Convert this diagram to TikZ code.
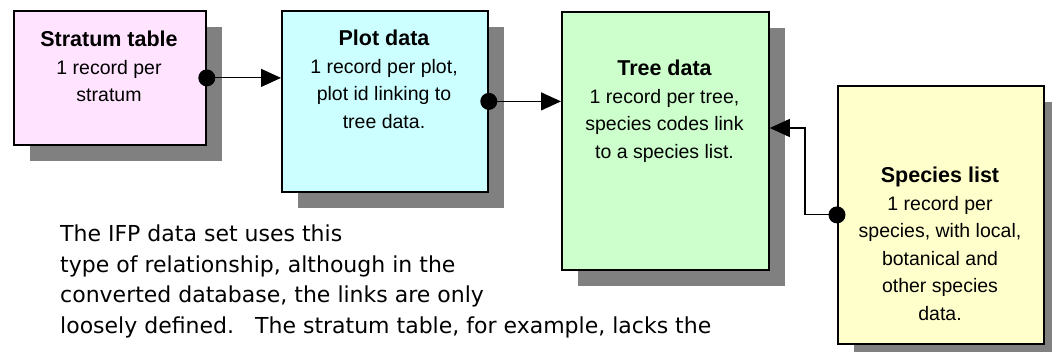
\documentclass[tikz,border=0pt]{standalone}
\usepackage{fontspec}
\setmainfont{Liberation Sans}
\newfontfamily\notefont{DejaVu Sans}
\usetikzlibrary{arrows.meta,shadows}
\definecolor{pinkfill}{HTML}{FFE3FF}
\definecolor{cyanfill}{HTML}{CCFFFF}
\definecolor{greenfill}{HTML}{CCFFCC}
\definecolor{yellowfill}{HTML}{FFFFCC}
\definecolor{shgray}{HTML}{808080}
\tikzset{
  tablebox/.style={draw=black, line width=1.8pt, inner sep=0pt, anchor=north west,
    drop shadow={shadow xshift=16pt, shadow yshift=-16pt, fill=shgray, opacity=1}},
  boxtext/.style={anchor=north, inner sep=0pt, align=center,
    font=\fontsize{19.5}{27.5}\selectfont},
  ttl/.style={},
  link/.style={line width=1.2pt, draw=black},
  linkhead/.style={-{Triangle[length=20pt,width=18pt]}},
  dotend/.style={fill=black},
}
\newcommand{\boxtitle}[1]{{\bfseries\fontsize{21.5}{27.5}\selectfont #1}}
\begin{document}
\begin{tikzpicture}[x=1pt,y=-1pt]
\useasboundingbox (0,0) rectangle (1052,352);
\clip (0,0) rectangle (1052,352);
\fill[white] (0,0) rectangle (1052,352);
% boxes
\node[tablebox, fill=pinkfill, minimum width=192pt, minimum height=134pt] (strat) at (13,10) {};
\node[tablebox, fill=cyanfill, minimum width=206pt, minimum height=181pt] (plot) at (281,10) {};
\node[tablebox, fill=greenfill, minimum width=207pt, minimum height=258pt] (tree) at (561,11) {};
\node[tablebox, fill=yellowfill, minimum width=206pt, minimum height=258pt] (spec) at (837,85) {};
% texts
\node[boxtext] (strat-t) at (109,31) {\boxtitle{Stratum table}\\1 record per\\stratum};
\node[boxtext] (plot-t) at (384,30) {\boxtitle{Plot data}\\1 record per plot,\\plot id linking to\\tree data.};
\node[boxtext] (tree-t) at (664.5,60) {\boxtitle{Tree data}\\1 record per tree,\\species codes link\\to a species list.};
\node[boxtext] (spec-t) at (940,167) {\boxtitle{Species list}\\1 record per\\species, with local,\\botanical and\\other species\\data.};
% connectors
\draw[link, linkhead] (strat.east) -- (strat.east -| plot.west);
\fill[dotend] (strat.east) circle (8.5);
\draw[link, linkhead] (plot.east) -- (plot.east -| tree.west);
\fill[dotend] (plot.east) circle (8.5);
\coordinate (bend) at (805,128);
\draw[link, linkhead] (spec.west) -| (bend) -- (bend -| tree.east);
\fill[dotend] (spec.west) circle (8.5);
% note
\node[anchor=north west, inner sep=0pt, align=left, font=\notefont\fontsize{22}{30.5}\selectfont] (note) at (60,225)
 {The IFP data set uses this\\type of relationship, although in the\\converted database, the links are only\\loosely defined.\ \ \ The stratum table, for example, lacks the};
\end{tikzpicture}
\end{document}
